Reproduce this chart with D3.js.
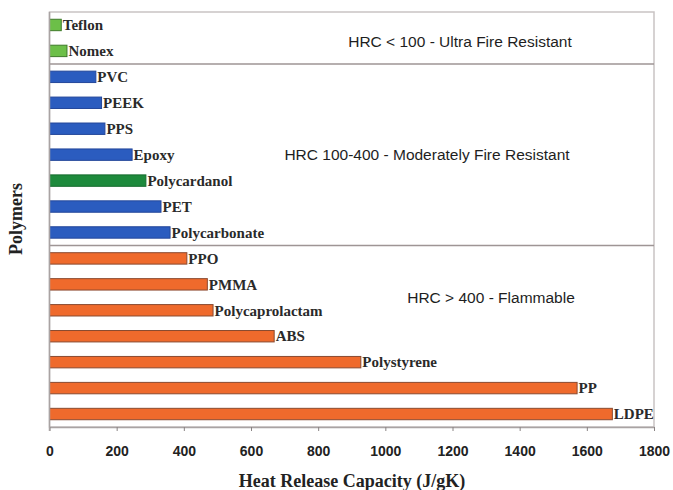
<!DOCTYPE html>
<html>
<head>
<meta charset="utf-8">
<script src="https://cdn.jsdelivr.net/npm/d3@7"></script>
<style>
  body { margin: 0; background: #fff; }
  svg { display: block; }
</style>
</head>
<body>
<script>
// Heat release capacity of common polymers (J/gK)
const polymers = ["Teflon", "Nomex", "PVC", "PEEK", "PPS", "Epoxy", "Polycardanol", "PET",
  "Polycarbonate", "PPO", "PMMA", "Polycaprolactam", "ABS", "Polystyrene", "PP", "LDPE"];
const hrc = [35, 52, 138, 155, 165, 246, 287, 332, 359, 409, 470, 487, 669, 927, 1571, 1676];
const classes = ["ultra", "ultra", "moderate", "moderate", "moderate", "moderate", "cardanol", "moderate",
  "moderate", "flammable", "flammable", "flammable", "flammable", "flammable", "flammable", "flammable"];
const xTicks = [0, 200, 400, 600, 800, 1000, 1200, 1400, 1600, 1800];
const zoneLabels = ["HRC < 100 - Ultra Fire Resistant", "HRC 100-400 - Moderately Fire Resistant", "HRC > 400 - Flammable"];
const zoneLast = ["Nomex", "Polycarbonate", "LDPE"];

const W = 673, H = 490;
const m = { left: 49.5, right: 19, top: 12, bottom: 63 };

const svg = d3.select("body").append("svg").attr("width", W).attr("height", H);

const x = d3.scaleLinear().domain([0, 1800]).range([m.left, W - m.right]);
const y = d3.scaleBand().domain(polymers).range([m.top, H - m.bottom]).paddingInner(0.56).paddingOuter(0.28);
const step = y.step();

const fill = d3.scaleOrdinal().domain(["ultra", "moderate", "cardanol", "flammable"])
  .range(["#6cbf48", "#2b5cbf", "#1d8a3c", "#ef6a2c"]);
const edge = d3.scaleOrdinal().domain(["ultra", "moderate", "cardanol", "flammable"])
  .range(["#3f7a2a", "#24479a", "#166b2e", "#8a4a30"]);

// plot frame
svg.append("rect")
  .attr("x", m.left).attr("y", m.top)
  .attr("width", x(1800) - m.left).attr("height", H - m.bottom - m.top)
  .attr("fill", "#fff").attr("stroke", "#c9c3c3").attr("stroke-width", 1.5);

// zone dividers between groups
const dividerY = zoneLast.slice(0, 2).map(p => y(p) + y.bandwidth() + (step - y.bandwidth()) / 2);
svg.selectAll("line.divider").data(dividerY).join("line")
  .attr("class", "divider")
  .attr("x1", m.left).attr("x2", x(1800))
  .attr("y1", d => d).attr("y2", d => d)
  .attr("stroke", "#9e9595").attr("stroke-width", 1.5);

// bars
svg.selectAll("rect.bar").data(polymers).join("rect")
  .attr("class", "bar")
  .attr("x", x(0))
  .attr("y", d => y(d))
  .attr("width", (d, i) => x(hrc[i]) - x(0))
  .attr("height", y.bandwidth())
  .attr("fill", (d, i) => fill(classes[i]))
  .attr("stroke", (d, i) => edge(classes[i]))
  .attr("stroke-width", 1);

// bar labels
svg.selectAll("text.lbl").data(polymers).join("text")
  .attr("class", "lbl")
  .attr("x", (d, i) => x(hrc[i]) + 1.5)
  .attr("y", d => y(d) + y.bandwidth() / 2)
  .attr("dy", "0.35em")
  .attr("font-family", "'Liberation Serif', 'Times New Roman', serif")
  .attr("font-size", 15)
  .attr("font-weight", "bold")
  .attr("fill", "#2a2a2a")
  .text(d => d);

// zone captions
const zoneX = [460, 427, 491];
const zoneY = [42, 155, 298];
svg.selectAll("text.zone").data(zoneLabels).join("text")
  .attr("class", "zone")
  .attr("x", (d, i) => zoneX[i])
  .attr("y", (d, i) => zoneY[i])
  .attr("dy", "0.35em")
  .attr("text-anchor", "middle")
  .attr("font-family", "'Liberation Sans', Arial, sans-serif")
  .attr("font-size", 15.5)
  .attr("fill", "#1e1e1e")
  .text(d => d);

// x axis
const axis = svg.append("g")
  .attr("transform", `translate(0,${H - m.bottom})`)
  .call(d3.axisBottom(x).tickValues(xTicks).tickFormat(d3.format("d"))
    .tickSize(4).tickSizeOuter(0).tickPadding(15));
axis.select(".domain").attr("stroke", "#a9a3a3").attr("stroke-width", 1.5);
axis.selectAll(".tick line").attr("stroke", "#8a8484");
axis.selectAll(".tick text")
  .attr("font-family", "'Liberation Sans', Arial, sans-serif")
  .attr("font-weight", "bold")
  .attr("font-size", 14)
  .attr("fill", "#222");

// left axis line
svg.append("line")
  .attr("x1", m.left).attr("x2", m.left)
  .attr("y1", m.top).attr("y2", H - m.bottom + 4)
  .attr("stroke", "#a9a3a3").attr("stroke-width", 1.5);

// axis titles
svg.append("text")
  .attr("x", 352).attr("y", 487)
  .attr("text-anchor", "middle")
  .attr("font-family", "'Liberation Serif', 'Times New Roman', serif")
  .attr("font-weight", "bold")
  .attr("font-size", 18)
  .attr("fill", "#222")
  .text("Heat Release Capacity (J/gK)");

svg.append("text")
  .attr("transform", "translate(22,219) rotate(-90)")
  .attr("text-anchor", "middle")
  .attr("font-family", "'Liberation Serif', 'Times New Roman', serif")
  .attr("font-weight", "bold")
  .attr("font-size", 18)
  .attr("fill", "#222")
  .text("Polymers");
</script>
</body>
</html>
